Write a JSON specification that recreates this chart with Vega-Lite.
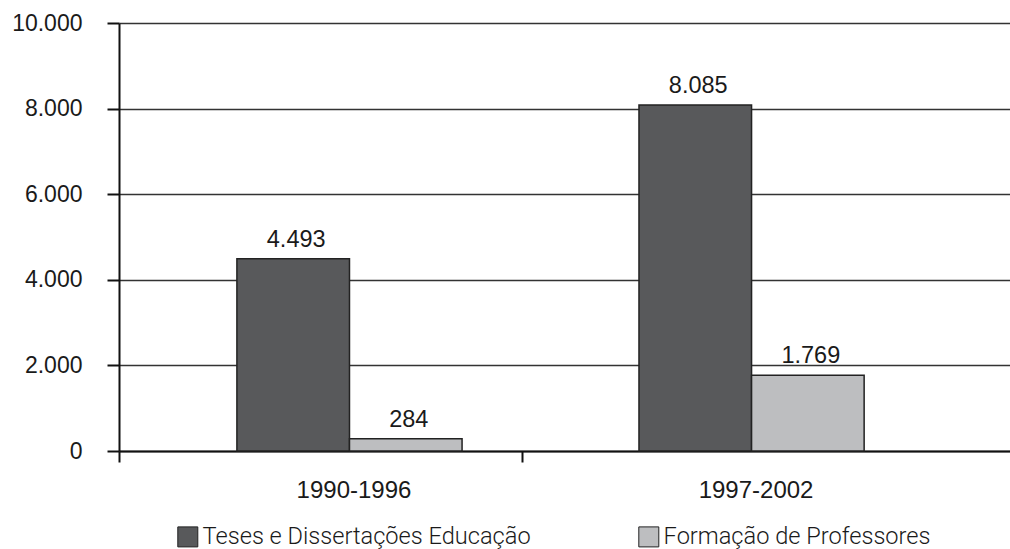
{
  "$schema": "https://vega.github.io/schema/vega-lite/v6.json",
  "width": 891,
  "height": 428,
  "autosize": {"type": "none"},
  "padding": {"left": 119, "top": 23, "right": 0, "bottom": 98},
  "background": "white",
  "config": {
    "view": {"stroke": null},
    "locale": {
      "number": {"decimal": ",", "thousands": ".", "grouping": [3], "currency": ["R$", ""]}
    },
    "text": {"font": "Liberation Sans"}
  },
  "data": {
    "values": [
      {"periodo": "1990-1996", "serie": "Teses e Dissertações Educação", "valor": 4493},
      {"periodo": "1990-1996", "serie": "Formação de Professores", "valor": 284},
      {"periodo": "1997-2002", "serie": "Teses e Dissertações Educação", "valor": 8085},
      {"periodo": "1997-2002", "serie": "Formação de Professores", "valor": 1769}
    ]
  },
  "encoding": {
    "x": {
      "field": "periodo",
      "type": "nominal",
      "scale": {"paddingInner": 0.44, "paddingOuter": 0.328, "align": 0.447},
      "axis": {
        "title": null,
        "labelAngle": 0,
        "labelFont": "Liberation Sans",
        "labelFontSize": 24,
        "labelColor": "#1a1a1a",
        "labelPadding": 16,
        "labelOffset": 234,
        "domainColor": "#111",
        "domainWidth": 2,
        "tickColor": "#111",
        "tickWidth": 2,
        "tickSize": 11,
        "tickOffset": -230
      }
    },
    "xOffset": {
      "field": "serie",
      "type": "nominal",
      "sort": ["Teses e Dissertações Educação", "Formação de Professores"],
      "scale": {"paddingInner": 0, "paddingOuter": 0}
    },
    "y": {
      "field": "valor",
      "type": "quantitative",
      "scale": {"domain": [0, 10000], "nice": false},
      "axis": {
        "title": null,
        "values": [0, 2000, 4000, 6000, 8000, 10000],
        "format": ",d",
        "labelFont": "Liberation Sans",
        "labelFontSize": 23,
        "labelColor": "#1a1a1a",
        "labelPadding": 25,
        "domainColor": "#111",
        "domainWidth": 2,
        "tickColor": "#111",
        "tickWidth": 2,
        "tickSize": 12,
        "grid": true,
        "gridColor": "#333",
        "gridWidth": 1.3
      }
    }
  },
  "layer": [
    {
      "mark": {"type": "bar", "stroke": "#222", "strokeWidth": 1.5},
      "encoding": {
        "color": {
          "field": "serie",
          "type": "nominal",
          "sort": ["Teses e Dissertações Educação", "Formação de Professores"],
          "scale": {
            "domain": ["Teses e Dissertações Educação", "Formação de Professores"],
            "range": ["#58595b", "#bdbec0"]
          },
          "legend": {
            "title": null,
            "orient": "none",
            "legendX": 57,
            "legendY": 502,
            "direction": "horizontal",
            "padding": 0,
            "symbolType": "square",
            "symbolSize": 400,
            "symbolStrokeColor": "#222",
            "symbolStrokeWidth": 1,
            "symbolOpacity": 1,
            "labelFont": "Roboto",
            "labelFontWeight": 300,
            "labelFontSize": 23.6,
            "labelColor": "#1a1a1a",
            "labelOffset": 3,
            "labelLimit": 500,
            "columnPadding": 105
          }
        }
      }
    },
    {
      "mark": {
        "type": "text",
        "baseline": "alphabetic",
        "dy": -12,
        "dx": 3,
        "fontSize": 23.5,
        "color": "#1a1a1a"
      },
      "encoding": {
        "text": {"field": "valor", "type": "quantitative", "format": ",d"}
      }
    }
  ]
}
